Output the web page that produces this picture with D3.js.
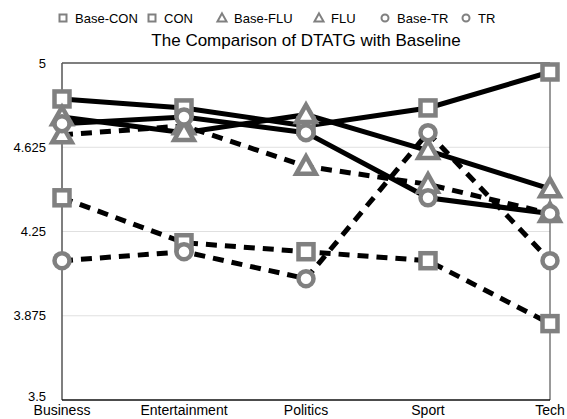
<!DOCTYPE html>
<html>
<head>
<meta charset="utf-8">
<script src="https://cdn.jsdelivr.net/npm/d3@7"></script>
<style>
  body { margin: 0; background: #fff; }
  svg { display: block; font-family: "Liberation Sans", Arial, sans-serif; }
</style>
</head>
<body>
<svg id="chart" width="567" height="419"></svg>
<script>
const categories = ["Business", "Entertainment", "Politics", "Sport", "Tech"];
const yTicks = [3.5, 3.875, 4.25, 4.625, 5];

const seriesNames = ["Base-CON", "CON", "Base-FLU", "FLU", "Base-TR", "TR"];
const baseCON = [4.40, 4.20, 4.16, 4.12, 3.84];
const con     = [4.84, 4.80, 4.72, 4.80, 4.96];
const baseFLU = [4.68, 4.72, 4.54, 4.46, 4.33];
const flu     = [4.76, 4.69, 4.77, 4.61, 4.44];
const baseTR  = [4.12, 4.16, 4.04, 4.69, 4.12];
const tr      = [4.73, 4.76, 4.69, 4.40, 4.33];

const series = [
  { name: seriesNames[0], values: baseCON, shape: "square", dashed: true },
  { name: seriesNames[1], values: con, shape: "square", dashed: false },
  { name: seriesNames[2], values: baseFLU, shape: "triangle", dashed: true },
  { name: seriesNames[3], values: flu, shape: "triangle", dashed: false },
  { name: seriesNames[4], values: baseTR, shape: "circle", dashed: true },
  { name: seriesNames[5], values: tr, shape: "circle", dashed: false }
];

const margin = { top: 63, right: 17, bottom: 19, left: 62 };
const W = 567, H = 419;
const svg = d3.select("#chart");

const x = d3.scalePoint().domain(categories).range([margin.left, W - margin.right]);
const y = d3.scaleLinear().domain([3.5, 5]).range([H - margin.bottom, margin.top]);

const gray = "#808080";

// gridlines
svg.append("g").selectAll("line")
  .data(yTicks.slice(1, -1))
  .join("line")
  .attr("x1", margin.left).attr("x2", W - margin.right)
  .attr("y1", d => y(d)).attr("y2", d => y(d))
  .attr("stroke", "#e0e0e0").attr("stroke-width", 1);

// frame
svg.append("line").attr("x1", margin.left).attr("x2", W - margin.right)
  .attr("y1", y(5)).attr("y2", y(5)).attr("stroke", "#555").attr("stroke-width", 1.5);
svg.append("line").attr("x1", W - margin.right).attr("x2", W - margin.right)
  .attr("y1", y(5)).attr("y2", y(3.5)).attr("stroke", "#555").attr("stroke-width", 1.2);
svg.append("line").attr("x1", margin.left).attr("x2", margin.left)
  .attr("y1", y(5)).attr("y2", y(3.5)).attr("stroke", "#555").attr("stroke-width", 1.5);
svg.append("line").attr("x1", margin.left).attr("x2", W - margin.right)
  .attr("y1", y(3.5)).attr("y2", y(3.5)).attr("stroke", "#111").attr("stroke-width", 1.5);

// y labels
svg.append("g").selectAll("text")
  .data(yTicks)
  .join("text")
  .attr("x", margin.left - 16)
  .attr("y", d => y(d) - (d === 3.5 ? 4 : 0))
  .attr("dy", "0.35em")
  .attr("text-anchor", "end")
  .attr("font-size", 13)
  .text(d => d);

// x labels
svg.append("g").selectAll("text")
  .data(categories)
  .join("text")
  .attr("x", d => x(d))
  .attr("y", H - 4)
  .attr("text-anchor", "middle")
  .attr("font-size", 14)
  .text(d => d);

// lines
const line = d3.line()
  .x((d, i) => x(categories[i]))
  .y(d => y(d));

svg.append("g").selectAll("path")
  .data(series)
  .join("path")
  .attr("d", s => line(s.values))
  .attr("fill", "none")
  .attr("stroke", "#000")
  .attr("stroke-width", 5)
  .attr("stroke-dasharray", s => s.dashed ? "11,8" : null);

function drawMarker(g, shape, cx, cy, size, sw) {
  if (shape === "square") {
    g.append("rect")
      .attr("x", cx - size / 2).attr("y", cy - size / 2)
      .attr("width", size).attr("height", size)
      .attr("fill", "#fff").attr("stroke", gray).attr("stroke-width", sw);
  } else if (shape === "triangle") {
    const h = size * 1.1;
    g.append("path")
      .attr("d", `M${cx},${cy - h * 0.6}L${cx + size * 0.65},${cy + h * 0.45}L${cx - size * 0.65},${cy + h * 0.45}Z`)
      .attr("fill", "#fff").attr("stroke", gray).attr("stroke-width", sw)
      .attr("stroke-linejoin", "miter");
  } else {
    g.append("circle")
      .attr("cx", cx).attr("cy", cy).attr("r", size / 2)
      .attr("fill", "#fff").attr("stroke", gray).attr("stroke-width", sw);
  }
}

// markers
const markers = svg.append("g");
series.forEach(s => {
  s.values.forEach((v, i) => {
    drawMarker(markers, s.shape, x(categories[i]), y(v), 15, 4.5);
  });
});

// legend
const legendX = [63, 152, 222, 319, 385, 466];
const legend = svg.append("g");
series.forEach((s, i) => {
  drawMarker(legend, s.shape, legendX[i], 18, 7, 2);
  legend.append("text")
    .attr("x", legendX[i] + 12)
    .attr("y", 18)
    .attr("dy", "0.35em")
    .attr("font-size", 13)
    .text(s.name);
});

// title
svg.append("text")
  .attr("x", 306)
  .attr("y", 40)
  .attr("dy", "0.35em")
  .attr("text-anchor", "middle")
  .attr("font-size", 17)
  .text("The Comparison of DTATG with Baseline");
</script>
</body>
</html>
